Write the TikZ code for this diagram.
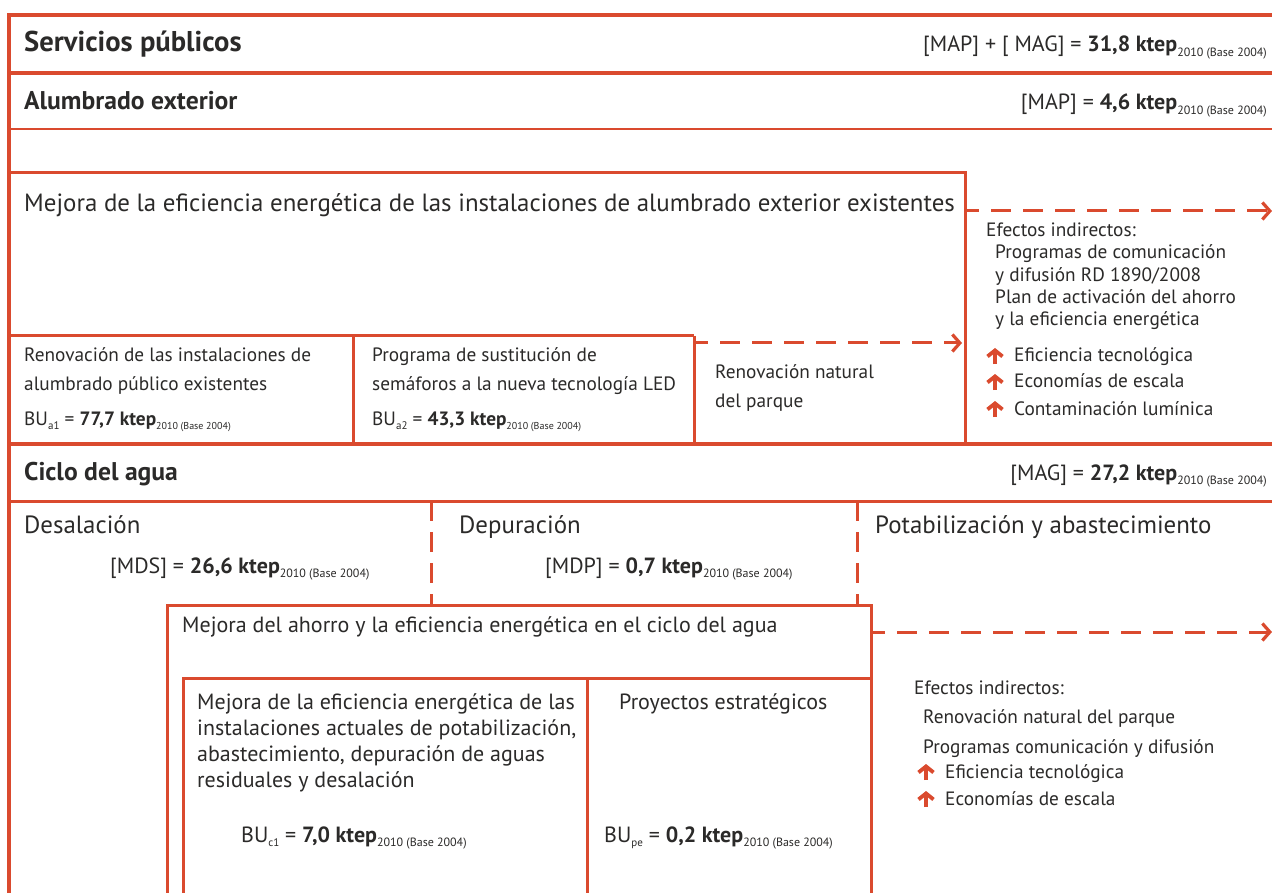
\documentclass[tikz,border=0pt]{standalone}
\usepackage{fontspec}
\setmainfont{PT Sans}
\usetikzlibrary{arrows.meta}
\definecolor{rd}{HTML}{DA4A2E}
\definecolor{tx}{HTML}{2B2A29}
\newcommand\yr{\raisebox{-4.5pt}{\fontsize{12}{14}\selectfont 2010 (Base 2004)}}
\newcommand\yrs{\raisebox{-4pt}{\fontsize{10}{12}\selectfont 2010 (Base 2004)}}
\newcommand\bsub[1]{\raisebox{-4.5pt}{\fontsize{11}{13}\selectfont #1}}
\tikzset{
  x=1pt, y=-1pt,
  txt/.style={anchor=base west, inner sep=0pt, text=tx},
  txe/.style={anchor=base east, inner sep=0pt, text=tx},
  hd/.style={font=\fontsize{28.6}{32}\selectfont\bfseries},
  hdb/.style={font=\fontsize{25.6}{29}\selectfont\bfseries},
  val/.style={font=\fontsize{22}{26}\selectfont},
  big/.style={font=\fontsize{24.9}{29}\selectfont},
  mid/.style={font=\fontsize{22}{26}\selectfont},
  sml/.style={font=\fontsize{19.3}{23}\selectfont},
  eff/.style={font=\fontsize{19.3}{23}\selectfont},
  rl/.style={draw=rd, line width=3pt},
  rlt/.style={draw=rd, line width=4pt},
  vdash/.style={draw=rd, line width=3pt, dash pattern=on 20pt off 11pt},
  darr/.style={draw=rd, line width=3pt, dash pattern=on 20pt off 12pt, dash phase=6pt,
     -{Straight Barb[length=7.5pt,width=17pt,line width=3.2pt]}},
  uparr/.pic={\draw[rd, line width=4pt, -{Straight Barb[length=6pt,width=15pt,line width=3.8pt]}] (0,1) -- (0,-15);}
}
\begin{document}
\begin{tikzpicture}
\useasboundingbox (0,0) rectangle (1272,893);
\fill[white] (0,0) rectangle (1272,893);

% frame and row lines
\draw[rlt] (9,895) -- (9,15) -- (1274,15);
\draw[rlt] (9,73) -- (1274,73);
\draw[rl, line width=2.5pt] (9,129) -- (1274,129);
% alumbrado measure box
\draw[rl] (9,173) -- (965,173) -- (965,444);
\draw[rl] (9,336) -- (694,336);
\draw[rl] (353,336) -- (353,444);
\draw[rl] (694,336) -- (694,444);
\draw[rlt, line width=3.5pt] (9,444) -- (1274,444);
\draw[rl] (9,501) -- (1274,501);
% column dividers
\draw[vdash] (431,501) -- (431,605);
\draw[vdash] (857,501) -- (857,605);
% agua measure box
\draw[rl] (167,895) -- (167,605) -- (871,605) -- (871,895);
\draw[rl] (183,895) -- (183,678) -- (871,678);
\draw[rl] (587,678) -- (587,895);

% dashed arrows
\coordinate (a1s) at (965,211); \coordinate (a1e) at (1272,211);
\coordinate (a2s) at (694,343); \coordinate (a2e) at (962,343);
\coordinate (a3s) at (871,632); \coordinate (a3e) at (1272,632);
\draw[darr] (a1s) -- (a1e);
\draw[darr] (a2s) -- (a2e);
\draw[darr] (a3s) -- (a3e);

% headers
\node[txt, hd] (sp) at (24,52) {Servicios públicos};
\node[txe, val] (spv) at (1267,52) {[MAP] + [ MAG] = \textbf{31,8 ktep}\yr};
\node[txt, hdb] (ae) at (24,110) {Alumbrado exterior};
\node[txe, val] (aev) at (1267,110) {[MAP] = \textbf{4,6 ktep}\yr};

\node[txt, big] (ma) at (24,212) {Mejora de la eficiencia energética de las instalaciones de alumbrado exterior existentes};

\node[txt, sml] (r1a) at (24,362) {Renovación de las instalaciones de};
\node[txt, sml] (r1b) at (24,390) {alumbrado público existentes};
\node[txt, sml] (r1c) at (24,425) {BU\bsub{a1} = \textbf{77,7 ktep}\yrs};
\node[txt, sml] (r2a) at (372,362) {Programa de sustitución de};
\node[txt, sml] (r2b) at (372,390) {semáforos a la nueva tecnología LED};
\node[txt, sml] (r2c) at (372,425) {BU\bsub{a2} = \textbf{43,3 ktep}\yrs};
\node[txt, sml] (r3a) at (715,378) {Renovación natural};
\node[txt, sml] (r3b) at (715,407) {del parque};

\node[txt, eff] (e1) at (986,237) {Efectos indirectos:};
\node[txt, eff] (e2) at (995,259) {Programas de comunicación};
\node[txt, eff] (e3) at (995,282) {y difusión RD 1890/2008};
\node[txt, eff] (e4) at (995,304) {Plan de activación del ahorro};
\node[txt, eff] (e5) at (995,326) {y la eficiencia energética};
\pic at (995,363) {uparr};
\pic at (995,389) {uparr};
\pic at (995,416) {uparr};
\node[txt, eff] (e6) at (1014,362) {Eficiencia tecnológica};
\node[txt, eff] (e7) at (1014,388) {Economías de escala};
\node[txt, eff] (e8) at (1014,415) {Contaminación lumínica};

% ciclo del agua
\node[txt, hdb] (ca) at (24,480) {Ciclo del agua};
\node[txe, val] (cav) at (1267,480) {[MAG] = \textbf{27,2 ktep}\yr};
\node[txt, big] (ds) at (24,533) {Desalación};
\node[txt, big] (dp) at (459,533) {Depuración};
\node[txt, big] (pt) at (875,533) {Potabilización y abastecimiento};
\node[txt, val] (mds) at (110,573) {[MDS] = \textbf{26,6 ktep}\yr};
\node[txt, val] (mdp) at (545,573) {[MDP] = \textbf{0,7 ktep}\yr};

\node[txt, mid] (mg) at (182,632) {Mejora del ahorro y la eficiencia energética en el ciclo del agua};
\node[txt, mid] (i1) at (197,709) {Mejora de la eficiencia energética de las};
\node[txt, mid] (i2) at (197,735) {instalaciones actuales de potabilización,};
\node[txt, mid] (i3) at (197,761) {abastecimiento, depuración de aguas};
\node[txt, mid] (i4) at (197,787) {residuales y desalación};
\node[txt, val] (bc) at (241,842) {BU\bsub{c1} = \textbf{7,0 ktep}\yr};
\node[txt, mid] (pe) at (619,709) {Proyectos estratégicos};
\node[txt, val] (bp) at (604,842) {BU\bsub{pe} = \textbf{0,2 ktep}\yr};

\node[txt, eff] (f1) at (914,694) {Efectos indirectos:};
\node[txt, eff] (f2) at (923,723) {Renovación natural del parque};
\node[txt, eff] (f3) at (923,753) {Programas comunicación y difusión};
\pic at (926,779) {uparr};
\pic at (926,806) {uparr};
\node[txt, eff] (f4) at (945,778) {Eficiencia tecnológica};
\node[txt, eff] (f5) at (945,805) {Economías de escala};
\end{tikzpicture}
\end{document}
